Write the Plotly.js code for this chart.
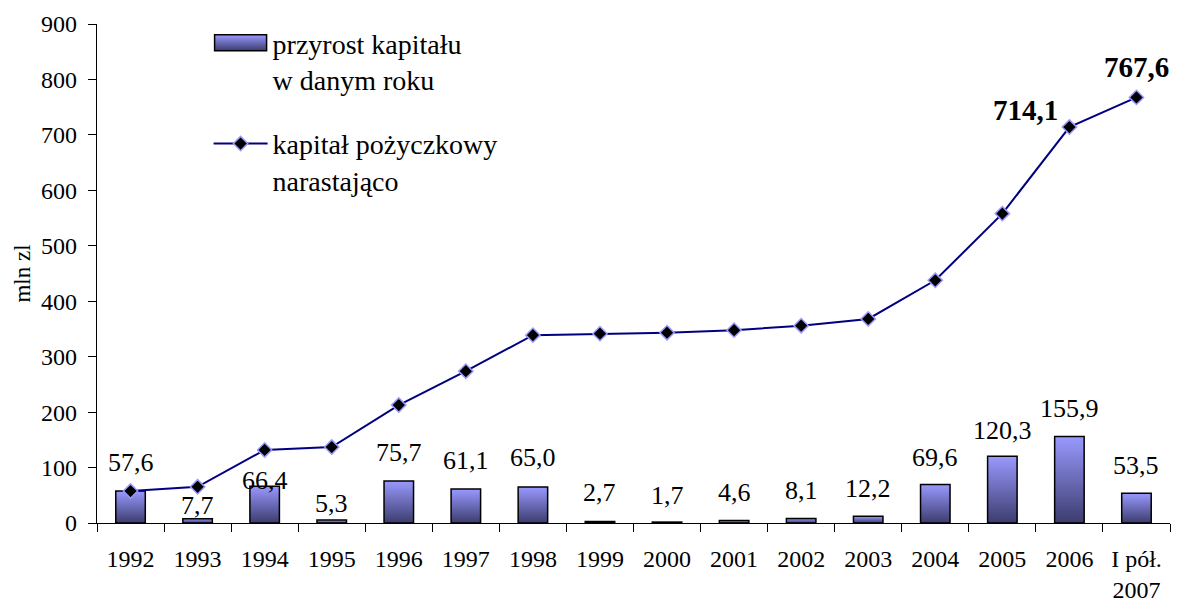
<!DOCTYPE html>
<html>
<head>
<meta charset="utf-8">
<script src="https://cdn.plot.ly/plotly-3.0.1.min.js"></script>
<style>body{margin:0;background:#fff}#chart{width:1178px;height:605px}</style>
</head>
<body>
<div id="chart"></div>
<script>
const categories = ['1992','1993','1994','1995','1996','1997','1998','1999','2000','2001','2002','2003','2004','2005','2006','I pół.<br>2007'];
const increase = [57.6, 7.7, 66.4, 5.3, 75.7, 61.1, 65.0, 2.7, 1.7, 4.6, 8.1, 12.2, 69.6, 120.3, 155.9, 53.5];
const cumulative = [57.6, 65.3, 131.7, 137.0, 212.7, 273.8, 338.8, 341.5, 343.2, 347.8, 355.9, 368.1, 437.7, 558.0, 714.1, 767.6];
const highlighted = [14, 15];

// label vertical offsets (px above bar top)
const labelShift = [29, 13, 6, 17, 29, 29, 29, 29, 27, 28, 28, 28, 27, 26, 28, 28];
const hlShift = [{x: -44, y: 17}, {x: 0, y: 30}];

const fmt = v => v.toFixed(1).replace('.', ',');
const FONT = "'Liberation Serif', 'Times New Roman', serif";

const bars = {
  type: 'bar', x: categories, y: increase,
  name: 'przyrost kapitału<br>w danym roku',
  legendgroup: 'a',
  marker: {color: '#7777cc', line: {color: '#000', width: 1.5}},
  hoverinfo: 'skip'
};
const line = {
  type: 'scatter', mode: 'lines+markers', x: categories, y: cumulative,
  name: 'kapitał pożyczkowy<br>narastająco',
  legendgroup: 'b',
  line: {color: '#000080', width: 2},
  marker: {symbol: 'diamond', size: 11, color: '#000', line: {color: '#9999ff', width: 1.5}},
  hoverinfo: 'skip'
};

const annotations = increase.map((v, i) => ({
  x: i, y: v, xref: 'x', yref: 'y', text: fmt(v), showarrow: false,
  yanchor: 'middle', yshift: labelShift[i], font: {family: FONT, size: 26, color: '#000'}
}));
highlighted.forEach((i, k) => annotations.push({
  x: i, y: cumulative[i], xref: 'x', yref: 'y', text: '<b>' + fmt(cumulative[i]) + '</b>',
  showarrow: false, yanchor: 'middle', xshift: hlShift[k].x, yshift: hlShift[k].y,
  font: {family: FONT, size: 29, color: '#000'}
}));

const layout = {
  width: 1178, height: 605,
  margin: {l: 97, r: 8, t: 24, b: 82},
  paper_bgcolor: '#fff', plot_bgcolor: '#fff',
  font: {family: FONT, size: 24, color: '#000'},
  bargap: 0.56,
  showlegend: true,
  legend: {x: 0.104, y: 1.012, xanchor: 'left', yanchor: 'top', bgcolor: 'rgba(0,0,0,0)',
           font: {family: FONT, size: 28, color: '#000'}, valign: 'top', tracegroupgap: 25, itemwidth: 54,
           traceorder: 'grouped'},
  xaxis: {type: 'category', range: [-0.5, 15.5], showline: true, linecolor: '#000', linewidth: 1.2,
          ticks: 'outside', ticklen: 8, tickcolor: '#000', tickson: 'boundaries',
          ticklabelstandoff: 14, showgrid: false, zeroline: false, tickangle: 0,
          tickfont: {family: FONT, size: 24, color: '#000'}},
  yaxis: {range: [0, 900], dtick: 100, showline: true, linecolor: '#000', linewidth: 1.2,
          ticks: 'outside', ticklen: 8, tickcolor: '#000', showgrid: false, zeroline: false,
          ticklabelstandoff: 6,
          tickfont: {family: FONT, size: 24, color: '#000'},
          title: {text: 'mln zl', font: {family: FONT, size: 23, color: '#000'}, standoff: 4}},
  annotations: annotations
};

Plotly.newPlot('chart', [bars, line], layout, {staticPlot: true}).then(gd => {
  const svg = gd.querySelector('.main-svg');
  const ns = 'http://www.w3.org/2000/svg';
  let defs = svg.querySelector('defs');
  if (!defs) { defs = document.createElementNS(ns, 'defs'); svg.insertBefore(defs, svg.firstChild); }
  const g = document.createElementNS(ns, 'linearGradient');
  g.setAttribute('id', 'barGrad'); g.setAttribute('x1', '0'); g.setAttribute('y1', '0');
  g.setAttribute('x2', '0'); g.setAttribute('y2', '1');
  [['0', '#9999ff'], ['1', '#3c3c6e']].forEach(([o, c]) => {
    const s = document.createElementNS(ns, 'stop'); s.setAttribute('offset', o); s.setAttribute('stop-color', c); g.appendChild(s);
  });
  defs.appendChild(g);
  gd.querySelectorAll('.barlayer .point path').forEach(p => { p.style.fill = 'url(#barGrad)'; });
  gd.querySelectorAll('.legend path.legendbar, .legend .legendpoints .legendundefined').forEach(p => {
    p.setAttribute('d', 'M-26,-8H26V8H-26Z'); p.style.fill = 'url(#barGrad)';
  });
});
</script>
</body>
</html>
